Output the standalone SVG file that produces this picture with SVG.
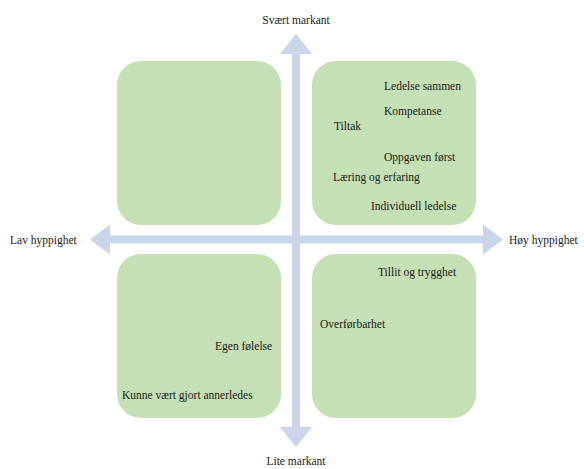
<svg xmlns="http://www.w3.org/2000/svg" width="584" height="469" viewBox="0 0 584 469">
<style>
.box{fill:#C5E0B4;}
.arr{fill:#C9D5EA;}
text{font-family:"Liberation Serif","Times New Roman",serif;font-size:11.5px;fill:#1a1a1a;}
.m{text-anchor:middle;}
</style>
<rect width="584" height="469" fill="#ffffff"/>
<g id="connectors">
<polygon class="arr" points="296,34 312,54 300,54 300,427 312,427 296,447 280,427 292,427 292,54 280,54"/>
<polygon class="arr" points="90,239.5 110,224.5 110,235.5 483,235.5 483,224.5 503,239.5 483,254.5 483,243.5 110,243.5 110,254.5"/>
</g>
<g id="q-top-left"><rect class="box" x="117" y="61" width="164" height="164" rx="24"/></g>
<g id="q-top-right"><rect class="box" x="312" y="61" width="164" height="164" rx="24"/>
<text x="384" y="90">Ledelse sammen</text>
<text x="384" y="115">Kompetanse</text>
<text x="334" y="130">Tiltak</text>
<text x="384" y="161">Oppgaven først</text>
<text x="333" y="181">Læring og erfaring</text>
<text x="371" y="210">Individuell ledelse</text>
</g>
<g id="q-bottom-left"><rect class="box" x="117" y="254" width="164" height="164" rx="24"/>
<text x="215" y="350">Egen følelse</text>
<text x="122" y="399">Kunne vært gjort annerledes</text>
</g>
<g id="q-bottom-right"><rect class="box" x="312" y="254" width="164" height="164" rx="24"/>
<text x="378" y="276">Tillit og trygghet</text>
<text x="320" y="328">Overførbarhet</text>
</g>
<g id="axis-labels">
<text class="m" x="296" y="24">Svært markant</text>
<text class="m" x="296" y="465">Lite markant</text>
<text x="10" y="244">Lav hyppighet</text>
<text x="509" y="244">Høy hyppighet</text>
</g>
</svg>
